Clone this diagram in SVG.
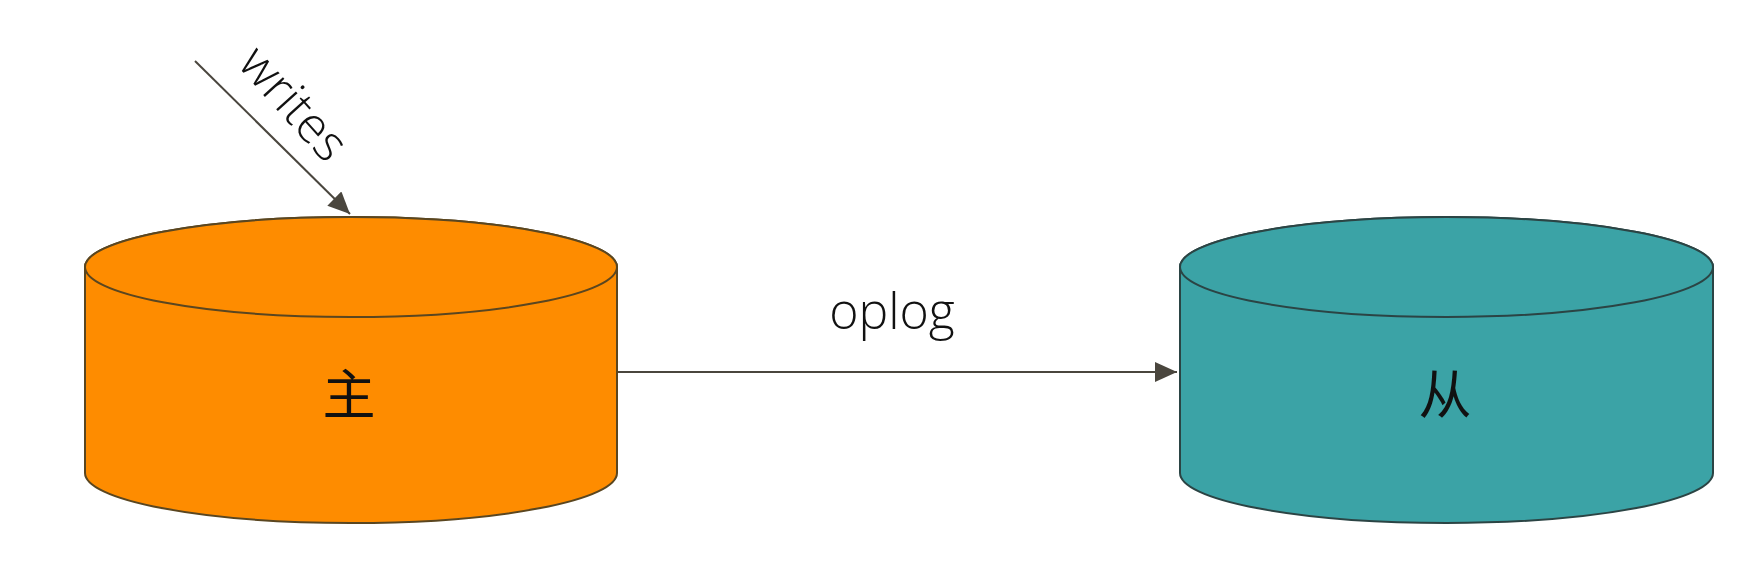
<svg xmlns="http://www.w3.org/2000/svg" width="1760" height="567" viewBox="0 0 1760 567">
<style>
.lbl{font-family:"Open Sans","Noto Sans",sans-serif;font-size:50px;font-weight:300;fill:#111;}
.cjk{font-family:"Noto Sans CJK SC","Noto Sans",sans-serif;font-size:53px;fill:#111;text-anchor:middle;}
.conn{stroke:#4a463e;stroke-width:2;fill:none;}
.master{fill:#FE8C00;stroke:#5a4620;stroke-width:2;}
.slave{fill:#3BA3A6;stroke:#2b4444;stroke-width:2;}
</style>
<defs>
<marker id="arr" markerUnits="userSpaceOnUse" markerWidth="24" markerHeight="22" refX="22" refY="10" orient="auto">
<path d="M0,0 L22,10 L0,20 Z" fill="#4a463e"/>
</marker>
</defs>
<rect width="1760" height="567" fill="#ffffff"/>
<g id="node-master">
<path class="master" d="M85,267 L85,473 A266,50 0 0 0 617,473 L617,267 A266,50 0 0 0 85,267 Z"/>
<ellipse class="master" cx="351" cy="267" rx="266" ry="50"/>
<text class="cjk" x="349" y="414">主</text>
</g>
<g id="node-slave">
<path class="slave" d="M1180,267 L1180,473 A266.5,50 0 0 0 1713,473 L1713,267 A266.5,50 0 0 0 1180,267 Z"/>
<ellipse class="slave" cx="1446.5" cy="267" rx="266.5" ry="50"/>
<text class="cjk" x="1445" y="414">从</text>
</g>
<g id="connectors">
<line class="conn" x1="195" y1="61" x2="350" y2="214" marker-end="url(#arr)"/>
<line class="conn" x1="618" y1="372" x2="1177" y2="372" marker-end="url(#arr)"/>
</g>
<g id="labels">
<text class="lbl" text-anchor="middle" x="892" y="329">oplog</text>
<text class="lbl" text-anchor="middle" transform="translate(293,104) rotate(48)" x="0" y="16">writes</text>
</g>
</svg>
